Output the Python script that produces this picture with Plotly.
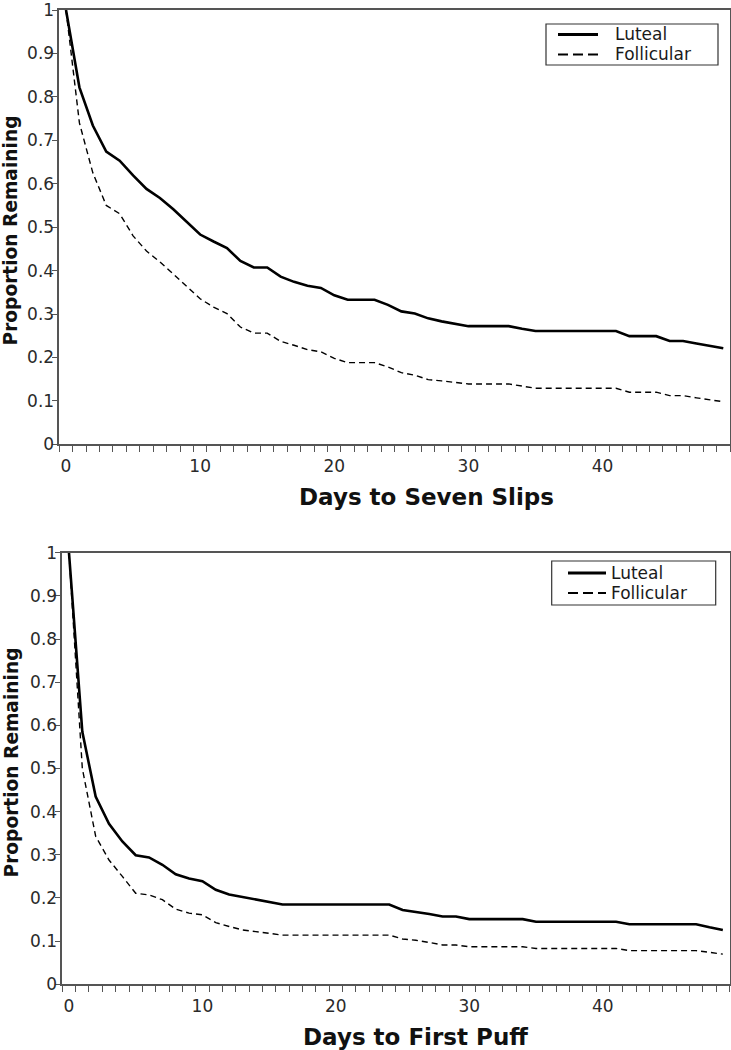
import plotly.graph_objects as go

# ---------------- data ----------------
days = list(range(50))
tick_days = [0, 10, 20, 30, 40]
tick_day_labels = ["0", "10", "20", "30", "40"]
y_tick_vals = [0, 0.1, 0.2, 0.3, 0.4, 0.5, 0.6, 0.7, 0.8, 0.9, 1.0]
y_tick_labels = ["0", "0.1", "0.2", "0.3", "0.4", "0.5", "0.6", "0.7", "0.8", "0.9", "1"]
series_names = ["Luteal", "Follicular"]

# Days to Seven Slips
slips_luteal = [
    1.000, 0.822, 0.734, 0.674, 0.653, 0.619, 0.588, 0.567, 0.541, 0.513,
    0.483, 0.467, 0.452, 0.422, 0.407, 0.407, 0.386, 0.374, 0.365, 0.360,
    0.343, 0.333, 0.333, 0.333, 0.321, 0.306, 0.301, 0.290, 0.283, 0.277,
    0.272, 0.272, 0.272, 0.272, 0.266, 0.261, 0.261, 0.261, 0.261, 0.261,
    0.261, 0.261, 0.249, 0.249, 0.249, 0.238, 0.238, 0.232, 0.227, 0.221,
]
slips_follicular = [
    1.000, 0.740, 0.625, 0.550, 0.531, 0.480, 0.445, 0.420, 0.392, 0.364,
    0.335, 0.316, 0.301, 0.270, 0.256, 0.256, 0.237, 0.228, 0.218, 0.213,
    0.198, 0.188, 0.188, 0.188, 0.178, 0.165, 0.159, 0.149, 0.146, 0.142,
    0.139, 0.139, 0.139, 0.139, 0.134, 0.129, 0.129, 0.129, 0.129, 0.129,
    0.129, 0.129, 0.120, 0.120, 0.120, 0.112, 0.112, 0.107, 0.103, 0.098,
]

# Days to First Puff
puff_luteal = [
    1.000, 0.585, 0.435, 0.372, 0.331, 0.299, 0.294, 0.277, 0.255, 0.245,
    0.239, 0.219, 0.208, 0.202, 0.197, 0.190, 0.185, 0.185, 0.185, 0.185,
    0.185, 0.185, 0.185, 0.185, 0.185, 0.172, 0.168, 0.163, 0.157, 0.157,
    0.151, 0.151, 0.151, 0.151, 0.151, 0.145, 0.145, 0.145, 0.145, 0.145,
    0.145, 0.145, 0.139, 0.139, 0.139, 0.139, 0.139, 0.139, 0.132, 0.126,
]
puff_follicular = [
    1.000, 0.500, 0.343, 0.288, 0.250, 0.211, 0.207, 0.196, 0.174, 0.165,
    0.161, 0.143, 0.134, 0.126, 0.122, 0.118, 0.114, 0.114, 0.114, 0.114,
    0.114, 0.114, 0.114, 0.114, 0.114, 0.105, 0.102, 0.097, 0.091, 0.091,
    0.087, 0.087, 0.087, 0.087, 0.087, 0.083, 0.083, 0.083, 0.083, 0.083,
    0.083, 0.083, 0.078, 0.078, 0.078, 0.078, 0.078, 0.078, 0.074, 0.070,
]

x_titles = ["Days to Seven Slips", "Days to First Puff"]
y_title = "Proportion Remaining"

# ---------------- layout helpers ----------------
W, H = 731, 1050
def px(x):
    return x / W
def py(y):
    return 1 - y / H

FONT = "DejaVu Sans"
BOLD = "DejaVu Sans"
AXC = "#555555"
TXT = "#2a2a2a"

solid = dict(color="black", width=2.6)
dashed = dict(color="black", width=1.4, dash="6px,4px")

fig = go.Figure()
fig.add_trace(go.Scatter(x=days, y=slips_luteal, mode="lines", line=solid,
                         name=series_names[0], xaxis="x", yaxis="y", showlegend=False))
fig.add_trace(go.Scatter(x=days, y=slips_follicular, mode="lines", line=dashed,
                         name=series_names[1], xaxis="x", yaxis="y", showlegend=False))
fig.add_trace(go.Scatter(x=days, y=puff_luteal, mode="lines", line=solid,
                         name=series_names[0], xaxis="x2", yaxis="y2", showlegend=False))
fig.add_trace(go.Scatter(x=days, y=puff_follicular, mode="lines", line=dashed,
                         name=series_names[1], xaxis="x2", yaxis="y2", showlegend=False))

def xaxis(domain, anchor):
    return dict(
        domain=domain, anchor=anchor, range=[-0.5, 49.5], automargin=False,
        showline=True, linecolor=AXC, linewidth=1.5, mirror=True,
        showgrid=False, zeroline=False,
        tickmode="array", tickvals=tick_days, ticktext=tick_day_labels,
        ticks="", ticklabelstandoff=6, ticklabeloverflow="allow",
        tickfont=dict(family=FONT, size=17, color=TXT),
        minor=dict(ticks="outside", ticklen=6, tickwidth=1.2, tickcolor=AXC,
                   tick0=0.5, dtick=1, showgrid=False),
    )

def yaxis(domain, anchor):
    return dict(
        domain=domain, anchor=anchor, range=[0, 1], automargin=False,
        showline=True, linecolor=AXC, linewidth=1.5, mirror=True,
        showgrid=False, zeroline=False,
        tickmode="array", tickvals=y_tick_vals, ticktext=y_tick_labels,
        ticks="outside", ticklen=6, tickwidth=1.2, tickcolor=AXC,
        ticklabelstandoff=-6, ticklabeloverflow="allow",
        tickfont=dict(family=FONT, size=17, color=TXT),
    )

top = (10, 444.3, 59.3, 730)      # y_top, y_bottom, x_left, x_right (px)
bot = (552.7, 984.3, 62.3, 729.5)

fig.update_layout(
    template="none",
    width=W, height=H, autosize=False,
    margin=dict(l=0, r=0, t=0, b=0, pad=0),
    paper_bgcolor="white", plot_bgcolor="white",
    xaxis=xaxis([px(top[2]), px(top[3])], "y"),
    yaxis=yaxis([py(top[1]), py(top[0])], "x"),
    xaxis2=xaxis([px(bot[2]), px(bot[3])], "y2"),
    yaxis2=yaxis([py(bot[1]), py(bot[0])], "x2"),
    showlegend=False,
)

annotations = []
shapes = []

# axis titles
for (cx, cy, txt) in [(426, 497, x_titles[0]), (415.5, 1037, x_titles[1])]:
    annotations.append(dict(x=px(cx), y=py(cy), xref="paper", yref="paper",
                            text="<b>%s</b>" % txt, showarrow=False,
                            xanchor="center", yanchor="middle",
                            font=dict(family=BOLD, size=23, color="#111111")))
for (cx, cy) in [(10.5, 231), (10.5, 763)]:
    annotations.append(dict(x=px(cx), y=py(cy), xref="paper", yref="paper",
                            text="<b>%s</b>" % y_title, showarrow=False, textangle=-90,
                            xanchor="center", yanchor="middle",
                            font=dict(family=BOLD, size=18.6, color="#111111")))

# legends (box, line samples, labels)
for (bx0, bx1, by0, by1, lx0, lx1, ly1, ly2, tx) in [
    (546, 718, 24, 65, 558, 598, 34.5, 54.5, 614),
    (551.7, 715.7, 561, 605, 568, 606, 573, 593, 610),
]:
    shapes.append(dict(type="rect", xref="paper", yref="paper",
                       x0=px(bx0), x1=px(bx1), y0=py(by1), y1=py(by0),
                       line=dict(color="#333333", width=1.2), fillcolor="white"))
    shapes.append(dict(type="line", xref="paper", yref="paper",
                       x0=px(lx0), x1=px(lx1), y0=py(ly1), y1=py(ly1),
                       line=dict(color="black", width=3)))
    shapes.append(dict(type="line", xref="paper", yref="paper",
                       x0=px(lx0), x1=px(lx1), y0=py(ly2), y1=py(ly2),
                       line=dict(color="black", width=2, dash="10px,5px")))
    for (yy, name) in [(ly1, series_names[0]), (ly2, series_names[1])]:
        annotations.append(dict(x=px(tx), y=py(yy), xref="paper", yref="paper",
                                text=name, showarrow=False, borderpad=0,
                                xanchor="left", yanchor="middle",
                                font=dict(family=FONT, size=17, color="#1a1a1a")))

fig.update_layout(annotations=annotations, shapes=shapes)

fig.write_html("out.html", config={"displayModeBar": False},
               post_script="document.body.style.margin='0px';")
